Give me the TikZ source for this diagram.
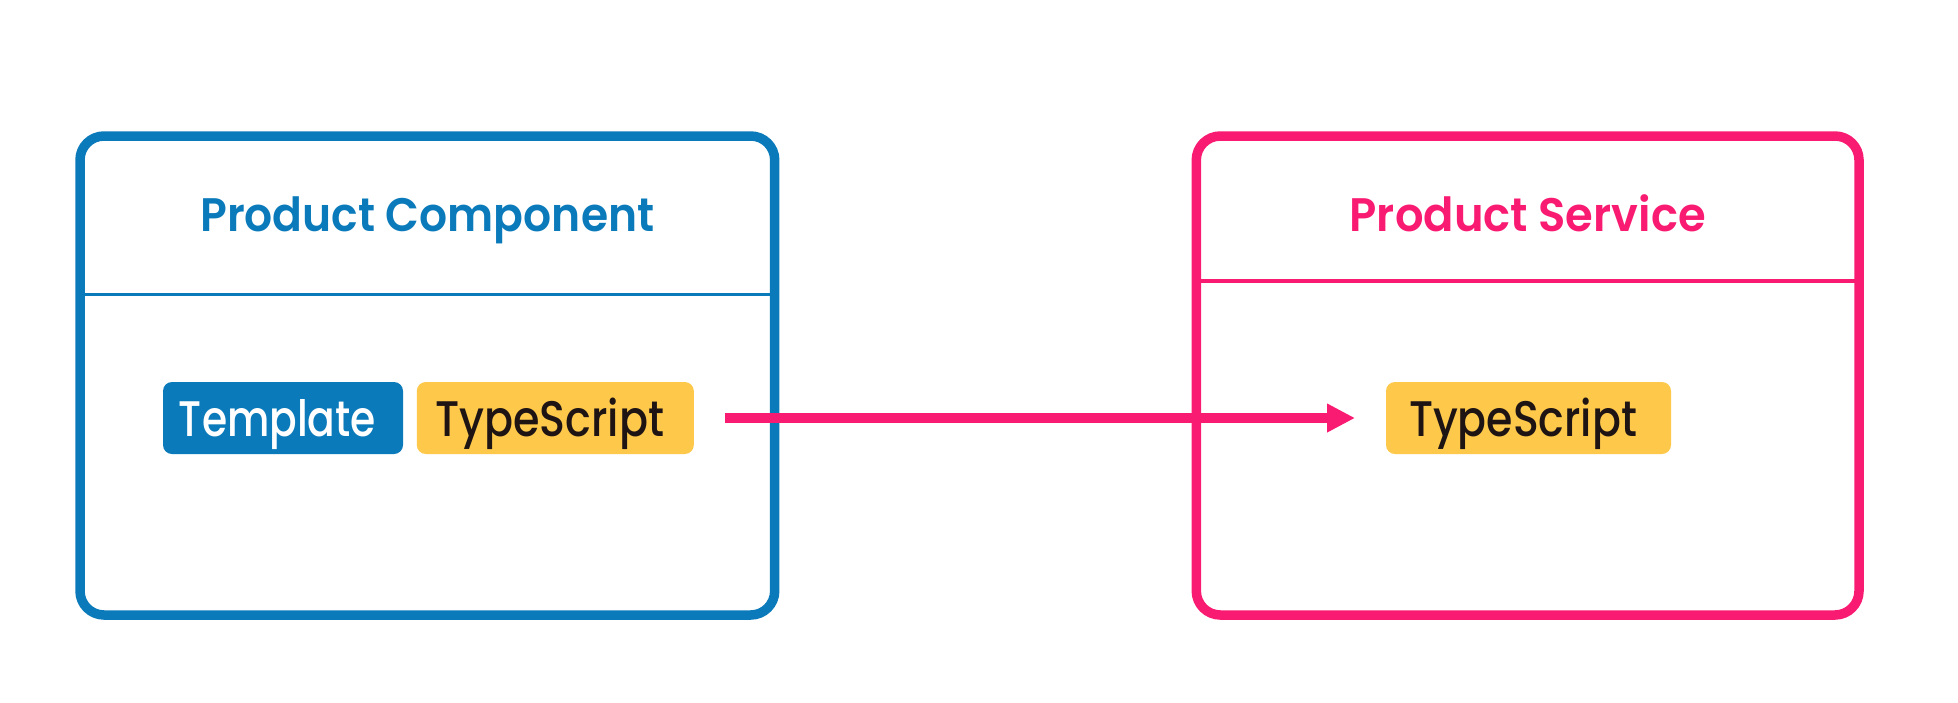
\documentclass[tikz,border=0pt]{standalone}
\usepackage{fontspec}
\setmainfont{Poppins}
\newfontfamily\pillfont{Poppins Medium}
\newfontfamily\headfont{Poppins SemiBold}
\usetikzlibrary{arrows.meta,calc}

\definecolor{compblue}{HTML}{0A7ABA}
\definecolor{servpink}{HTML}{F91B72}
\definecolor{tsyellow}{HTML}{FEC94B}
\definecolor{inkdark}{HTML}{1E1414}

% text squeezed to a given width, natural height kept
\newcommand{\fitto}[2]{\resizebox{#1}{\height}{#2}}
% pill label: a little more room on the right than on the left
\newcommand{\pilllabel}[2]{\fitto{#1}{#2}\hspace*{11pt}}

\tikzset{
  panel/.style={draw=#1, line width=9.5pt, rounded corners=24pt,
    minimum width=694.7pt, minimum height=479pt, inner sep=0pt, outer sep=0pt},
  divider/.style={draw=#1, line width=3.4pt},
  paneltitle/.style={anchor=base, text=#1, inner sep=0pt,
    font=\fontsize{47}{47}\headfont},
  pill/.style={fill=#1, rounded corners=9pt, inner sep=0pt, outer sep=0pt,
    minimum height=72pt, text height=36pt, text depth=0pt,
    font=\fontsize{50}{50}\pillfont},
  callarrow/.style={draw=servpink, line width=9.5pt,
    -{Triangle[length=28pt,width=27pt]},
    shorten <=31pt, shorten >=31pt}
}

\begin{document}
\begin{tikzpicture}[x=1pt, y=-1pt]
  \useasboundingbox (0,0) rectangle (1958,702);

  % left panel: the component
  \node[panel=compblue, minimum width=694.7pt] (comp) at (427.35,375.5) {};
  \draw[divider=compblue]
    ($(comp.north west)+(0,158.7)$) -- ($(comp.north east)+(0,158.7)$);
  \node[paneltitle=compblue] (compTitle) at (427.35,231.7)
    {\fitto{454pt}{Product Component}};

  % right panel: the service
  \node[panel=servpink, minimum width=662.7pt] (serv) at (1527.65,375.5) {};
  \draw[divider=servpink]
    ($(serv.north west)+(0,145)$) -- ($(serv.north east)+(0,145)$);
  \node[paneltitle=servpink] (servTitle) at (1527.65,231.7)
    {\fitto{356pt}{Product Service}};

  % pills
  \node[pill=compblue, minimum width=240pt, text=white] (tmpl) at (283,418)
    {\pilllabel{197pt}{Template}};
  \node[pill=tsyellow, minimum width=277pt, text=inkdark] (tsL) at (555.3,418)
    {\pilllabel{229pt}{TypeScript}};
  \node[pill=tsyellow, minimum width=285pt, text=inkdark] (tsR) at (1528.5,418)
    {\pilllabel{228pt}{TypeScript}};

  % call from component code into service code
  \draw[callarrow] (tsL.east) -- (tsR.west);
\end{tikzpicture}
\end{document}
